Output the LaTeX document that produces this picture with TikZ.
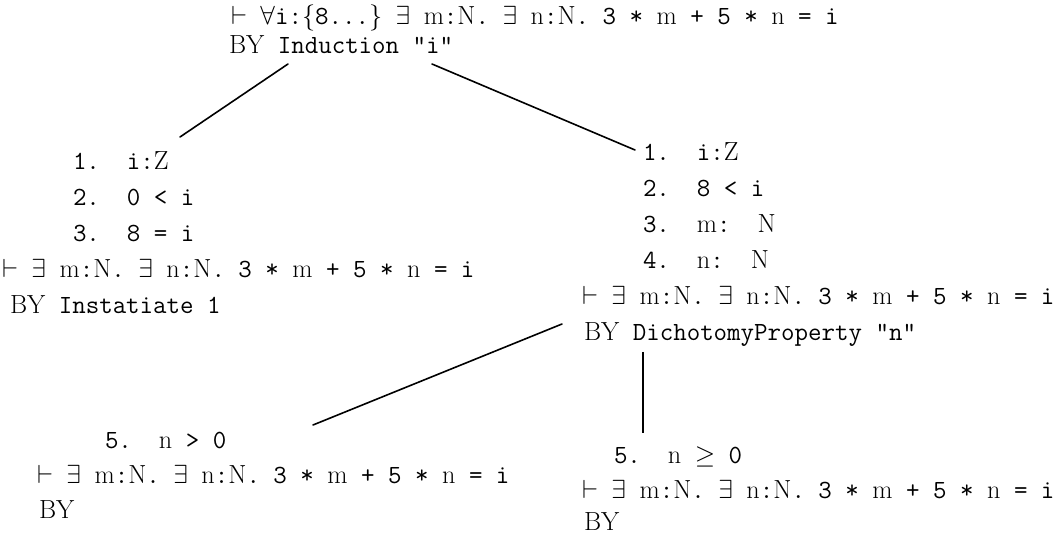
\documentclass[tikz,border=0pt]{standalone}
\usepackage{fix-cm}
\newcommand\rmt[1]{\textrm{#1}}
\newcommand\goal{$\vdash$ $\exists$ \rmt{m}:\rmt{N}. $\exists$ \rmt{n}:\rmt{N}. 3 * \rmt{m} + 5 * \rmt{n} = i}
\tikzset{
  ln/.style={anchor=base west, inner sep=0pt, outer sep=0pt,
             font=\fontsize{26.2}{31}\selectfont\ttfamily},
  edge/.style={line width=1.6pt, line cap=round},
  vedge/.style={line width=2.4pt},
}
\begin{document}
\begin{tikzpicture}[x=1pt, y=-1pt]
\useasboundingbox (0,0) rectangle (1058,537);

% root goal
\node[ln] (g0) at (231,25) {$\vdash$ $\forall$i:$\{$8...$\}$ $\exists$ \rmt{m}:\rmt{N}. $\exists$ \rmt{n}:\rmt{N}. 3 * \rmt{m} + 5 * \rmt{n} = i};
\node[ln] (b0) at (229,54) {\rmt{BY} Induction "i"};

% base case
\node[ln] (L1) at (73,170) {1.\ \ i:\rmt{Z}};
\node[ln] (L2) at (73,206) {2.\ \ 0 < i};
\node[ln] (L3) at (73,242) {3.\ \ 8 = i};
\node[ln] (Lg) at (2,278) {\goal};
\node[ln] (Lb) at (10,314) {\rmt{BY} Instatiate 1};

% step case
\node[ln] (R1) at (643,161) {1.\ \ i:\rmt{Z}};
\node[ln] (R2) at (643,197) {2.\ \ 8 < i};
\node[ln] (R3) at (643,233) {3.\ \ \rmt{m}:\ \ \rmt{N}};
\node[ln] (R4) at (643,269) {4.\ \ \rmt{n}:\ \ \rmt{N}};
\node[ln] (Rg) at (582,305) {\goal};
\node[ln] (Rb) at (584,341) {\rmt{BY} DichotomyProperty "n"};

% subgoal n > 0
\node[ln] (A1) at (105,448) {5.\ \ \rmt{n} > 0};
\node[ln] (Ag) at (37,483) {\goal};
\node[ln] (Ab) at (39,518) {\rmt{BY}};

% subgoal n >= 0
\node[ln] (B1) at (614,463) {5.\ \ \rmt{n} $\geq$ 0};
\node[ln] (Bg) at (582,498) {\goal};
\node[ln] (Bb) at (584,530) {\rmt{BY}};

% connector ends
\coordinate (b0-l) at (288,64);
\coordinate (b0-r) at (432,64);
\coordinate (L-top) at (180,137);
\coordinate (R-top) at (635,150);
\coordinate (Rb-l) at (562,324);
\coordinate (Rb-d) at (643,352);
\coordinate (A-top) at (313,425);
\coordinate (B-top) at (643,433);

\draw[edge] (b0-l) -- (L-top);
\draw[edge] (b0-r) -- (R-top);
\draw[edge] (Rb-l) -- (A-top);
\draw[vedge] (Rb-d) -- (B-top);
\end{tikzpicture}
\end{document}
